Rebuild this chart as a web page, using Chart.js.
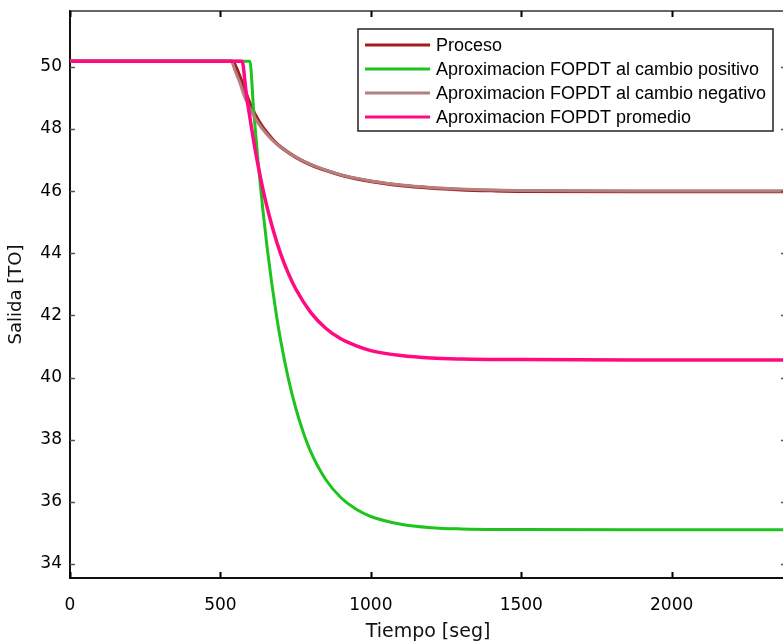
<!DOCTYPE html>
<html>
<head>
<meta charset="utf-8">
<script src="https://cdn.jsdelivr.net/npm/chart.js@4/dist/chart.umd.min.js"></script>
<style>
  html, body { margin: 0; padding: 0; background: #fff; overflow: hidden; }
</style>
</head>
<body>
<canvas id="salidaChart" width="790" height="643"></canvas>
<script>
// valores (tiempo en seg, salida en TO)
var tProceso = [0, 540, 555, 570, 585, 603, 628, 653, 678, 703, 753, 803, 853, 903, 953, 1003, 1100, 1200, 1300, 1400, 1500, 2000, 2380];
var proceso = [50.18, 50.18, 49.92, 49.55, 49.15, 48.7, 48.25, 47.9, 47.62, 47.4, 47.08, 46.84, 46.66, 46.51, 46.4, 46.31, 46.18, 46.1, 46.05, 46.02, 46.0, 45.99, 45.99];

var tPositivo = [0, 598, 610, 625, 640, 655, 670, 685, 700, 725, 750, 775, 800, 850, 900, 950, 1000, 1100, 1200, 1300, 1500, 2000, 2380];
var positivo = [50.18, 50.18, 48.66, 46.97, 45.5, 44.21, 43.08, 42.08, 41.21, 40.0, 39.03, 38.25, 37.62, 36.72, 36.14, 35.77, 35.53, 35.28, 35.17, 35.13, 35.11, 35.1, 35.1];

var tNegativo = [0, 535, 550, 565, 580, 600, 625, 650, 675, 700, 750, 800, 850, 900, 950, 1000, 1100, 1200, 1300, 1400, 1500, 2000, 2380];
var negativo = [50.18, 50.18, 49.85, 49.48, 49.05, 48.62, 48.2, 47.88, 47.62, 47.42, 47.1, 46.86, 46.68, 46.53, 46.42, 46.33, 46.2, 46.12, 46.07, 46.04, 46.02, 46.01, 46.01];

var tPromedio = [0, 572, 585, 600, 615, 630, 650, 675, 700, 725, 750, 800, 850, 900, 950, 1000, 1100, 1200, 1300, 1500, 2000, 2380];
var promedio = [50.18, 50.18, 49.22, 48.24, 47.36, 46.59, 45.69, 44.76, 43.99, 43.37, 42.86, 42.1, 41.59, 41.25, 41.03, 40.87, 40.71, 40.63, 40.6, 40.58, 40.57, 40.57];

var xTicks = [0, 500, 1000, 1500, 2000];
var yTicks = [34, 36, 38, 40, 42, 44, 46, 48, 50];

function puntos(ts, vs) {
  return ts.map(function (t, i) { return { x: t, y: vs[i] }; });
}

// marco superior/derecho, marcas hacia dentro y leyenda estilo matlab
var marcoPlugin = {
  id: "marco",
  afterDraw: function (chart) {
    var ctx = chart.ctx;
    var a = chart.chartArea;
    var sx = chart.scales.x, sy = chart.scales.y;
    ctx.save();
    ctx.strokeStyle = "#333";
    ctx.lineWidth = 1.5;
    ctx.beginPath();
    ctx.moveTo(a.left, a.top);
    ctx.lineTo(a.right, a.top);
    ctx.lineTo(a.right, a.bottom);
    ctx.stroke();

    ctx.strokeStyle = "#000";
    ctx.lineWidth = 2;
    xTicks.forEach(function (v) {
      var px = Math.round(sx.getPixelForValue(v)) + 0.5;
      ctx.beginPath();
      ctx.moveTo(px, a.bottom);
      ctx.lineTo(px, a.bottom - 6);
      ctx.moveTo(px, a.top);
      ctx.lineTo(px, a.top + 6);
      ctx.stroke();
    });
    ctx.strokeStyle = "#555";
    ctx.lineWidth = 1.5;
    yTicks.forEach(function (v) {
      var py = Math.round(sy.getPixelForValue(v)) + 0.5;
      ctx.beginPath();
      ctx.moveTo(a.left, py);
      ctx.lineTo(a.left + 5, py);
      ctx.moveTo(a.right, py);
      ctx.lineTo(a.right - 5, py);
      ctx.stroke();
    });

    // leyenda
    var bx = 358, by = 29, bw = 415, bh = 102;
    ctx.fillStyle = "#fff";
    ctx.fillRect(bx, by, bw, bh);
    ctx.strokeStyle = "#222";
    ctx.lineWidth = 1.5;
    ctx.strokeRect(bx, by, bw, bh);
    ctx.font = "18px 'Liberation Sans', Arial, sans-serif";
    ctx.textBaseline = "middle";
    ctx.textAlign = "left";
    chart.data.datasets.forEach(function (ds, i) {
      var y = 45 + i * 24;
      ctx.strokeStyle = ds.borderColor;
      ctx.lineWidth = 3;
      ctx.beginPath();
      ctx.moveTo(365, y);
      ctx.lineTo(430, y);
      ctx.stroke();
      ctx.fillStyle = "#000";
      ctx.fillText(ds.label, 436, y + 1);
    });
    ctx.restore();
  }
};

var ctx = document.getElementById("salidaChart").getContext("2d");
var chart = new Chart(ctx, {
  type: "line",
  data: {
    datasets: [
      {
        label: "Proceso",
        data: puntos(tProceso, proceso),
        borderColor: "#A51C1C",
        borderWidth: 3.5,
        order: 3
      },
      {
        label: "Aproximacion FOPDT al cambio positivo",
        data: puntos(tPositivo, positivo),
        borderColor: "#1EC31E",
        borderWidth: 3,
        order: 2
      },
      {
        label: "Aproximacion FOPDT al cambio negativo",
        data: puntos(tNegativo, negativo),
        borderColor: "#B47F7F",
        borderWidth: 3,
        order: 1
      },
      {
        label: "Aproximacion FOPDT promedio",
        data: puntos(tPromedio, promedio),
        borderColor: "#FF0A80",
        borderWidth: 3.5,
        order: 0
      }
    ]
  },
  options: {
    responsive: false,
    animation: false,
    layout: { padding: { left: 0, top: 11, right: 4, bottom: 0 } },
    elements: {
      point: { radius: 0 },
      line: { cubicInterpolationMode: "monotone", borderCapStyle: "butt", borderJoinStyle: "round" }
    },
    plugins: {
      legend: { display: false },
      tooltip: { enabled: false }
    },
    scales: {
      x: {
        type: "linear",
        min: 0,
        max: 2380,
        afterBuildTicks: function (s) { s.ticks = xTicks.map(function (v) { return { value: v }; }); },
        afterFit: function (s) { s.height = 65; s.paddingLeft = 0; s.paddingRight = 0; },
        grid: { display: false },
        border: { display: true, color: "#111", width: 2 },
        ticks: {
          color: "#000",
          padding: 9,
          maxRotation: 0,
          callback: function (v) { return String(v); },
          font: { family: "'DejaVu Sans'", size: 17 }
        },
        title: {
          display: true,
          text: "Tiempo [seg]",
          color: "#111",
          padding: { top: 0, bottom: 0 },
          font: { family: "'DejaVu Sans'", size: 19 }
        }
      },
      y: {
        type: "linear",
        min: 33.55,
        max: 51.8,
        afterBuildTicks: function (s) { s.ticks = yTicks.map(function (v) { return { value: v }; }); },
        afterFit: function (s) { s.width = 70; s.paddingTop = 0; s.paddingBottom = 0; },
        grid: { display: false },
        border: { display: true, color: "#111", width: 2 },
        ticks: {
          color: "#000",
          padding: 0,
          font: { family: "'DejaVu Sans'", size: 17 }
        },
        title: {
          display: true,
          text: "Salida [TO]",
          color: "#111",
          padding: { top: 6, bottom: 0 },
          font: { family: "'DejaVu Sans'", size: 18 }
        }
      }
    }
  },
  plugins: [marcoPlugin]
});
</script>
</body>
</html>
